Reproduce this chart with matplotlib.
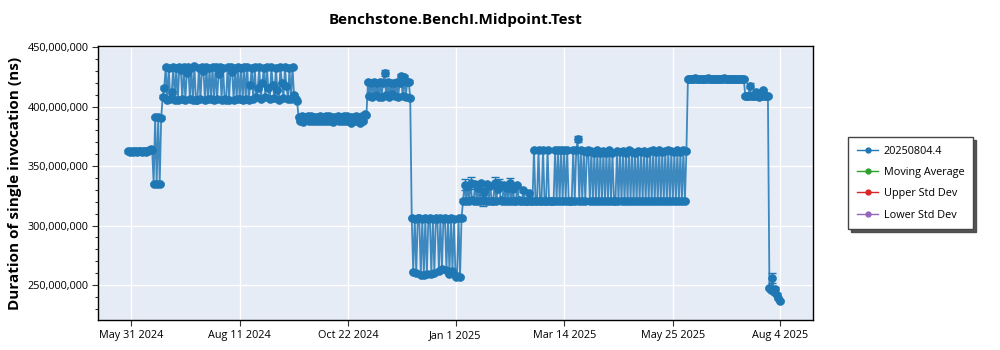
import matplotlib
matplotlib.use("Agg")
import matplotlib.pyplot as plt
import matplotlib.ticker as mticker
from matplotlib.lines import Line2D
import pandas as pd
import numpy as np

plt.rcParams["font.family"] = ["Open Sans", "DejaVu Sans"]

# ---- benchmark runs (one run per day), durations in millions of ns ----
first_run = "2024-05-29"
last_run = "2025-08-04"

phase_a = [362.4, 362.2, 362.5, 362.1, 362.3, 362.6, 362.2, 362.4, 362.3, 362.1,
           362.5, 362.3, 362.2, 362.4, 363.5, 364.0, 363.8]
phase_b = [335.0, 391.3, 334.8, 391.0, 335.2, 390.8]
phase_c = [408.5, 416.0, 433.0, 405.8, 432.5, 406.4, 412.0, 433.4, 406.0, 432.8,
           405.5, 433.6, 431.0, 406.2, 433.2, 405.9, 428.5, 433.0, 406.6, 432.6,
           406.0, 433.8, 405.4, 405.8, 432.9, 406.3, 433.1, 430.0, 405.7, 433.5,
           406.1, 432.7, 406.5, 433.3, 405.6, 433.0, 406.2, 427.5, 433.6, 405.9,
           432.8, 406.4, 405.8, 433.2, 406.0, 433.5, 429.0, 405.7, 432.9, 406.3,
           433.4, 406.1, 432.6, 405.5, 433.1, 406.6, 433.7, 405.9, 418.5, 432.8,
           406.2, 433.0, 407.8, 416.0, 433.3, 406.5, 420.0, 432.7, 408.0, 433.5,
           415.5, 406.3, 433.1, 418.0, 407.5, 432.9, 414.0, 406.0, 433.4, 419.5,
           407.2, 433.0, 417.0, 406.4, 432.6, 406.8, 433.2, 410.0, 406.5, 405.0]
phase_d = [391.5, 388.0, 392.0, 387.5, 391.2, 388.4, 391.8, 387.8, 392.2, 388.1,
           391.0, 387.6, 391.6, 388.3, 392.1, 387.9, 391.4, 388.2, 391.9, 387.7,
           392.3, 388.0, 391.3, 387.4, 391.7, 388.5, 392.0, 387.8, 391.5, 388.1,
           391.8, 387.6, 392.1, 388.3, 391.2, 386.0, 391.6, 387.9, 392.0, 388.2,
           391.4, 386.5, 392.3, 388.0, 393.5, 393.0]
phase_e = [420.5, 409.0, 420.0, 408.2, 421.0, 410.0, 419.8, 408.5, 420.6, 407.8,
           420.2, 428.5, 409.5, 420.8, 408.0, 419.5, 410.5, 420.3, 408.8, 421.0,
           408.4, 420.1, 425.5, 409.2, 425.0, 408.0, 420.4, 421.0, 407.5]
phase_f = [306.5, 261.0, 305.8, 260.5, 306.2, 306.0, 258.5, 305.9, 258.8, 306.3,
           259.0, 305.7, 306.1, 259.5, 305.9, 260.2, 306.4, 305.8, 262.0, 306.0,
           263.5, 305.6, 306.2, 262.8, 305.9, 259.2, 306.1, 261.5, 305.8, 257.0,
           258.0, 306.3, 256.5, 306.0]
phase_g = [321.0, 334.5, 320.6, 333.0, 320.8, 336.0, 321.2, 320.5, 335.2, 320.9,
           331.5, 320.7, 335.8, 321.1, 329.0, 320.6, 334.8, 320.9, 333.5, 321.0,
           320.5, 336.2, 320.8, 330.5, 335.0, 321.2, 320.7, 334.2, 320.9, 332.0,
           321.0, 335.5, 320.6, 331.0, 320.8, 320.5, 334.0, 321.1, 320.7, 320.9,
           329.5, 320.6, 321.0, 320.8, 327.0, 320.7]
phase_h = [320.6, 363.5, 320.8, 320.5, 363.2, 320.7, 320.9, 363.8, 320.6, 320.5,
           363.4, 320.8, 320.6, 320.7, 320.9, 363.6, 320.5, 363.3, 320.8, 363.7,
           320.6, 363.5, 320.9, 363.2, 320.7, 320.5, 320.8, 363.6, 320.6, 363.4,
           372.5, 320.7, 363.8, 320.9, 363.1, 320.5, 361.5, 363.6, 320.8, 362.9,
           320.6, 361.2, 320.7, 363.5, 320.9, 361.0, 320.6, 362.8, 320.5, 361.4,
           320.8, 363.3, 320.7, 361.1, 320.6, 320.9, 362.7, 320.5, 361.6, 320.8,
           362.4, 320.6, 361.0, 320.7, 363.9, 320.9, 362.2, 320.6, 361.3, 320.5,
           362.6, 320.8, 361.5, 320.7, 363.0, 320.6, 361.2, 320.9, 362.5, 320.5,
           363.4, 320.8, 362.1, 320.6, 363.7, 320.7, 361.8, 320.9, 362.9, 320.5,
           363.2, 320.6, 362.4, 320.8, 361.6, 320.7, 363.5, 320.6, 362.0, 320.9,
           363.3, 320.7, 362.6]
phase_i = [423.5, 423.2, 423.6, 423.3, 423.4, 423.7, 423.2, 423.5, 423.3, 423.6,
           423.4, 423.2, 423.5, 423.7, 423.3, 423.4, 423.6, 423.2, 423.5, 423.3,
           423.4, 423.6, 423.2, 423.5, 423.7, 423.3, 423.4, 423.5, 423.2, 423.6,
           423.3, 423.4, 423.5, 423.2, 423.6, 423.4, 423.3, 423.5]
phase_j = [409.0, 408.6, 409.2, 417.5, 408.8, 409.1, 408.7, 412.5, 409.0, 408.5,
           409.3, 408.9, 414.0, 409.1, 408.7, 409.0]
phase_k = [247.5, 246.0, 256.0, 244.5, 247.0, 242.0, 239.0, 236.5]

# standard deviation of each run (millions of ns); most runs are tight
typical_std = 1.0
wide_std = {
    "2024-11-15": 2.5, "2024-11-26": 2.0, "2024-11-28": 2.0,
    "2025-01-07": 5.0, "2025-01-11": 5.0, "2025-01-19": 5.0,
    "2025-01-27": 5.0, "2025-01-30": 4.5, "2025-02-06": 4.5,
    "2025-03-23": 2.5, "2025-07-15": 2.0, "2025-07-30": 4.0,
}

legend_entries = ["20250804.4", "Moving Average", "Upper Std Dev", "Lower Std Dev"]
legend_colors = ["#1f77b4", "#2ca02c", "#d62728", "#9467bd"]
title = "Benchstone.BenchI.Midpoint.Test"
y_label = "Duration of single invocation (ns)"
x_tick_dates = ["2024-05-31", "2024-08-11", "2024-10-22", "2025-01-01",
                "2025-03-14", "2025-05-25", "2025-08-04"]

# ---- assemble ----
run_dates = pd.date_range(first_run, last_run, freq="D")
durations_m = (phase_a + phase_b + phase_c + phase_d + phase_e + phase_f +
               phase_g + phase_h + phase_i + phase_j + phase_k)
durations = np.array(durations_m) * 1e6
stds = np.array([wide_std.get(d.strftime("%Y-%m-%d"), typical_std)
                 for d in run_dates]) * 1e6

fig = plt.figure(figsize=(10, 3.5), dpi=100)
fig.subplots_adjust(left=0.098, right=0.813, bottom=0.0857, top=0.8686)
ax = fig.add_subplot(111)
ax.set_facecolor("#E5ECF6")

blue = legend_colors[0]
ax.plot(run_dates, durations, "-", color=blue, lw=1.3, alpha=0.85, zorder=3)
ax.errorbar(run_dates, durations, yerr=stds, fmt="o", ms=5.2, color=blue,
            ecolor=blue, elinewidth=1.0, capsize=3.2, capthick=1.0, zorder=4)

# ---- axes ----
ax.set_xlim(pd.Timestamp("2024-05-09 03:00"), pd.Timestamp("2025-08-25 21:00"))
ax.set_ylim(220.6e6, 451e6)

ticks = pd.to_datetime(x_tick_dates)
ax.set_xticks(ticks)
ax.set_xticklabels([f"{t:%b} {t.day} {t.year}" for t in ticks])
ax.yaxis.set_major_locator(mticker.MultipleLocator(50e6))
ax.yaxis.set_minor_locator(mticker.MultipleLocator(10e6))
ax.yaxis.set_major_formatter(mticker.FuncFormatter(lambda v, p: f"{v:,.0f}"))

ax.tick_params(axis="both", which="major", labelsize=7.8, length=4, width=0.8,
               color="#333333", pad=3)
ax.tick_params(axis="y", which="minor", length=2.5, width=0.8, color="#333333")
ax.grid(True, which="major", color="white", lw=1.0)
ax.set_axisbelow(True)
for s in ax.spines.values():
    s.set_color("black")
    s.set_linewidth(1.0)

ax.set_title(title, fontsize=11, fontweight="bold", pad=16)
ax.set_ylabel(y_label, fontsize=11, fontweight="bold", labelpad=4)

# ---- legend ----
handles = [Line2D([], [], color=c, marker="o", ms=3.5, lw=1.0) for c in legend_colors]
leg = ax.legend(handles, legend_entries, loc="upper left",
                bbox_to_anchor=(1.049, 0.668), borderaxespad=0, fontsize=7.8,
                frameon=True, fancybox=False, shadow={"color": "#444444", "alpha": 0.9},
                handlelength=2.0, labelspacing=0.95, borderpad=0.8, handletextpad=0.5)
leg.get_frame().set_edgecolor("#444444")
leg.get_frame().set_linewidth(1.0)

fig.savefig("out.png", dpi=100)
